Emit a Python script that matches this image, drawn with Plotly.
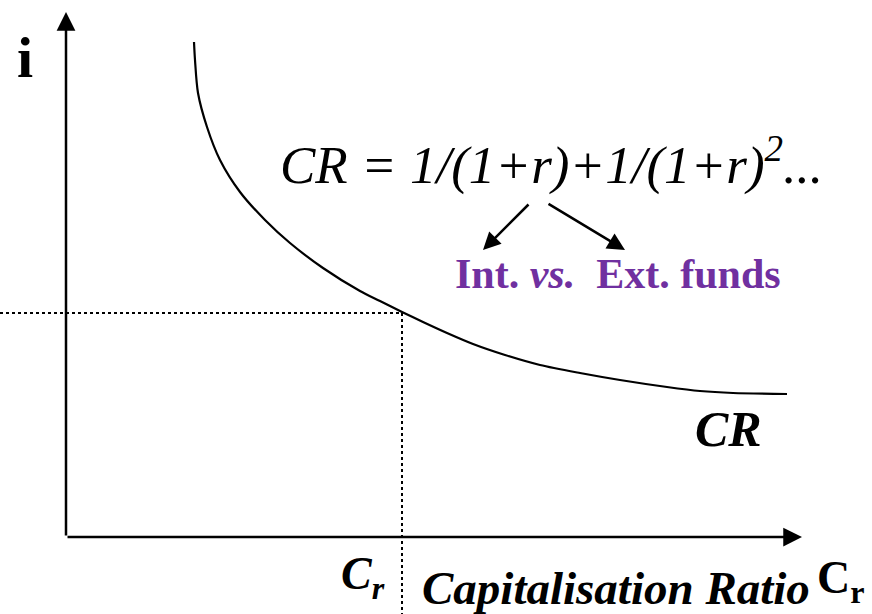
import plotly.graph_objects as go

# Curve CR (capitalisation ratio vs interest rate)
cr_x = [128, 129, 132, 141, 154, 174, 199, 224, 257, 294, 314, 336, 357, 381,
        407, 439, 474, 514, 554, 601, 634, 667, 721]
cr_i = [495, 477, 444, 410, 377, 345, 317, 294, 269, 246, 236, 225, 215, 204,
        193, 182, 172, 164, 157, 150, 146, 144, 143]

# Equilibrium point
eq_x = 336
eq_i = 224

# Axis extents
x_range = [-66, 806]
y_range = [-77, 537]
x_axis_end = 736
y_axis_end = 525

# Annotation arrows (start -> tip)
arrow_from = [(464, 334), (481, 334)]
arrow_to = [(417, 287), (559, 287)]

SERIF = "Liberation Serif"
PURPLE = "#7030A0"

fig = go.Figure()

fig.add_trace(go.Scatter(x=cr_x, y=cr_i, mode="lines",
                         line=dict(color="black", width=2.2, shape="spline", smoothing=0.8),
                         hoverinfo="skip"))
fig.add_trace(go.Scatter(x=[x_range[0], eq_x], y=[eq_i, eq_i], mode="lines",
                         line=dict(color="black", width=2, dash="dot"),
                         hoverinfo="skip"))
fig.add_trace(go.Scatter(x=[eq_x, eq_x], y=[eq_i, y_range[0]], mode="lines",
                         line=dict(color="black", width=2, dash="dot"),
                         hoverinfo="skip"))

ann = []
# axes with arrows
ann.append(dict(x=0, y=y_axis_end, ax=0, ay=0, xref="x", yref="y", axref="x", ayref="y",
                text="", showarrow=True, arrowhead=2, arrowsize=1.5, arrowwidth=2.5,
                arrowcolor="black", standoff=0, startstandoff=0))
ann.append(dict(x=x_axis_end, y=0, ax=0, ay=0, xref="x", yref="y", axref="x", ayref="y",
                text="", showarrow=True, arrowhead=2, arrowsize=1.5, arrowwidth=2.5,
                arrowcolor="black", standoff=0, startstandoff=0))
for (fx, fy), (tx, ty) in zip(arrow_from, arrow_to):
    ann.append(dict(x=tx, y=ty, ax=fx, ay=fy, xref="x", yref="y", axref="x", ayref="y",
                    text="", showarrow=True, arrowhead=2, arrowsize=1.4, arrowwidth=2.5,
                    arrowcolor="black", standoff=0))

def label(x, y, text, size, color="black", xanchor="center"):
    ann.append(dict(x=x, y=y, xref="x", yref="y", text=text, showarrow=False,
                    xanchor=xanchor, yanchor="middle",
                    font=dict(family=SERIF, size=size, color=color)))

label(-41, 480, "<b>i</b>", 58)
label(485, 376, "<i>CR = 1/(1+r)+1/(1+r)<sup>2</sup>...</i>", 53)
label(552, 263, "<b>Int. <i>vs.</i>  Ext. funds</b>", 42, PURPLE)
label(662, 108, "<b><i>CR</i></b>", 50)
label(297, -40, "<b><i>C<sub>r</sub></i></b>", 46)
label(550, -51, "<b><i>Capitalisation Ratio</i></b>", 47)
label(801, -44, "<b>C<sub>r</sub></b>", 46, xanchor="right")

fig.update_layout(
    width=872, height=614,
    margin=dict(l=0, r=0, t=0, b=0),
    paper_bgcolor="white", plot_bgcolor="white",
    showlegend=False,
    xaxis=dict(range=x_range, visible=False, fixedrange=True),
    yaxis=dict(range=y_range, visible=False, fixedrange=True),
    annotations=ann,
)

fig.write_html("out.html", config={"displayModeBar": False},
               post_script="document.body.style.margin='0';")
